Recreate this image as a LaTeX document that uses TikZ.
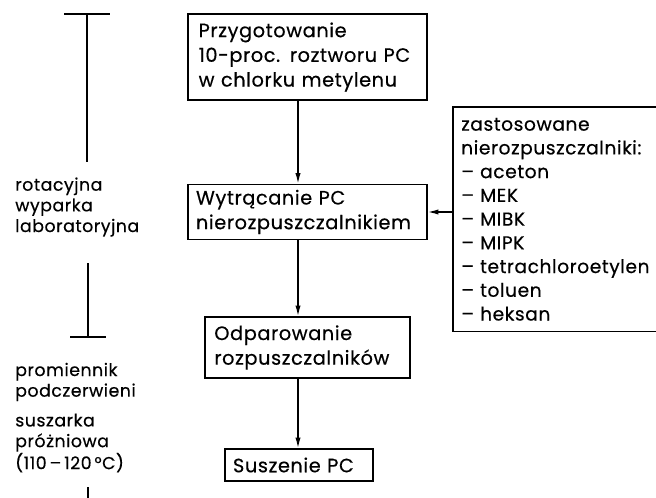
\documentclass[tikz,border=0pt]{standalone}
\usepackage{fontspec}
\setmainfont{Poppins}[LetterSpace=3, FakeBold=0.4]
\usetikzlibrary{arrows.meta}

\tikzset{
  box/.style={draw, line width=1.1pt, align=left, font=\fontsize{14.5}{18.5}\selectfont},
  lab/.style={anchor=west, align=left, inner sep=0pt, font=\fontsize{13}{15.5}\selectfont},
  arr/.style={line width=1.1pt, -{Latex[length=8pt,width=4pt]}},
  bar/.style={line width=0.9pt}
}

\begin{document}
\begin{tikzpicture}[x=0.75pt,y=-0.75pt]
\useasboundingbox (0,0) rectangle (656,498);

% process steps
\node[box, minimum width=179.25pt, minimum height=64.5pt, inner xsep=8pt, text width=163.25pt]
  (prep) at (307.5,57) {Przygotowanie\\10-proc. roztworu PC\\w chlorku metylenu};
\node[box, minimum width=179.25pt, minimum height=41.25pt, inner xsep=6pt, text width=167.25pt]
  (prec) at (307.5,212) {Wytrącanie PC\\nierozpuszczalnikiem};
\node[box, minimum width=153.75pt, minimum height=45.75pt, inner xsep=7pt, text width=139.75pt]
  (evap) at (307.5,347.5) {Odparowanie\\rozpuszczalników};
\node[box, minimum width=111pt, minimum height=24pt, inner xsep=6pt, text width=99pt]
  (dry) at (299,465) {Suszenie PC};

% main flow
\coordinate (col) at (298,0);
\draw[arr] (prep.south -| col) -- (prec.north -| col);
\draw[arr] (prec.south -| col) -- (evap.north -| col);
\draw[arr] (evap.south -| col) -- (dry.north -| col);

% list of non-solvents (box open to the right)
\node[anchor=north west, align=left, inner xsep=6pt, minimum height=168pt, text width=220pt,
  font=\fontsize{14}{17.8}\selectfont]
  (lst) at (453,107) {zastosowane\\nierozpuszczalniki:\\-- aceton\\-- MEK\\-- MIBK\\-- MIPK\\-- tetrachloroetylen\\-- toluen\\-- heksan};
\draw[line width=1.1pt] (lst.north east) -- (lst.north west) -- (lst.south west) -- (lst.south east);
\draw[arr] (prec.east -| lst.west) -- (prec.east);

% equipment on the left
\node[lab] (rot) at (15,207) {rotacyjna\\wyparka\\laboratoryjna};
\node[lab] (ir) at (15,382) {promiennik\\podczerwieni};
\node[lab] (vac) at (15,443) {suszarka\\próżniowa\\(110\,–\,120\,°C)};

\coordinate (b1) at (87,14);
\draw[bar] (64,14) -- (110,14);
\draw[bar] (b1) -- (b1 |- 0,162);
\coordinate (b2) at (88,337);
\draw[bar] (70,337) -- (106,337);
\draw[bar] (b2) -- (b2 |- 0,263);
\draw[bar] (88,487) -- (88,498);

\end{tikzpicture}
\end{document}
